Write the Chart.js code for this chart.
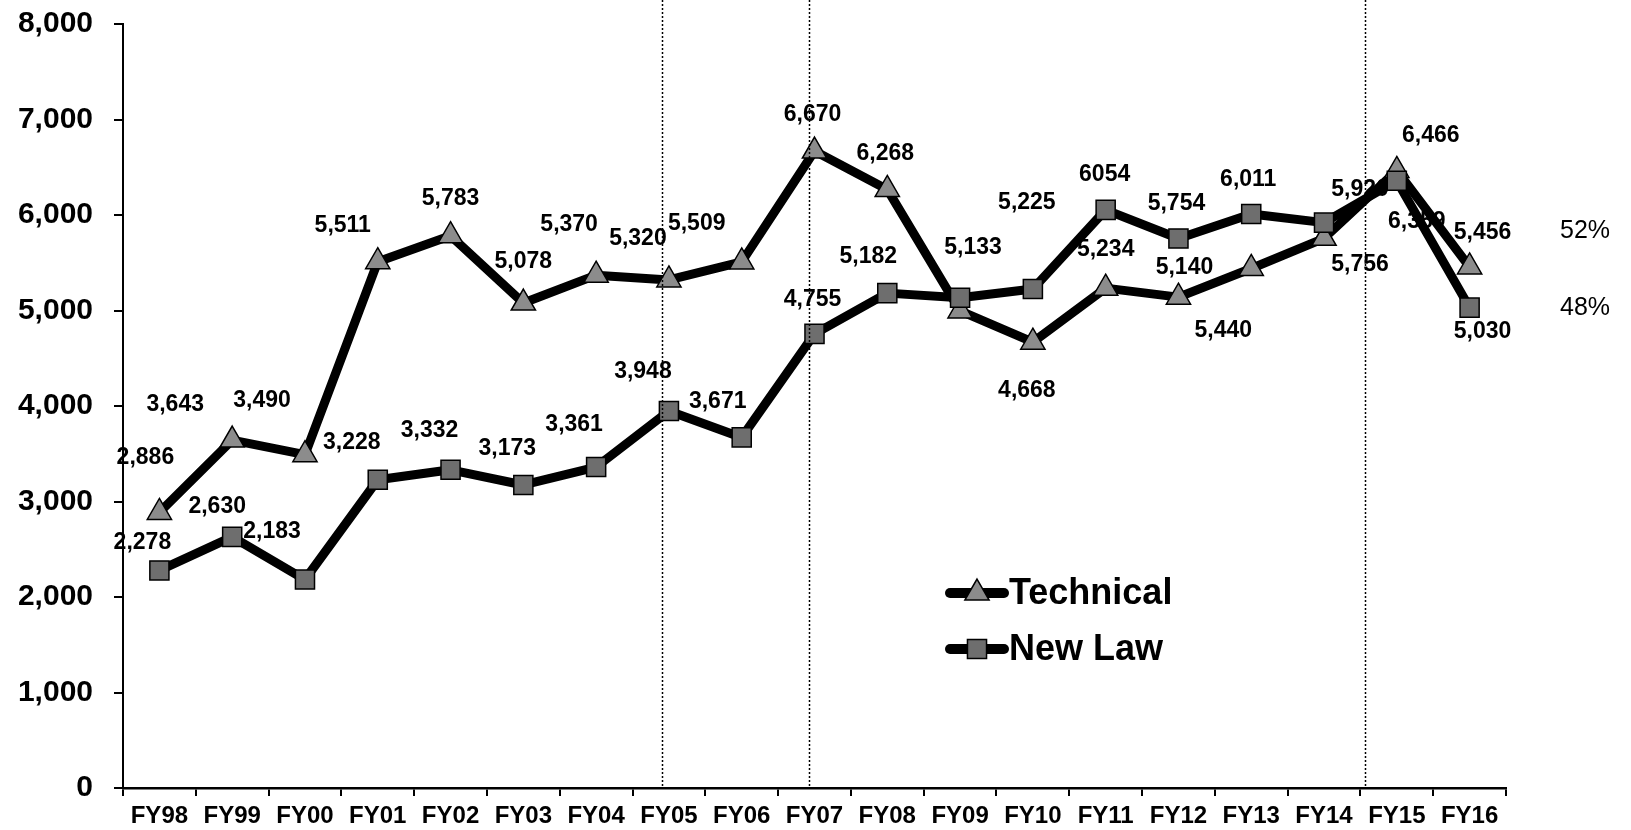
<!DOCTYPE html>
<html>
<head>
<meta charset="utf-8">
<script src="https://cdn.jsdelivr.net/npm/chart.js@4.4.0/dist/chart.umd.min.js"></script>
<style>
    html, body { margin: 0; padding: 0; background: #fff; }
    #wrap { width: 1631px; height: 830px; }
</style>
</head>
<body>
<div id="wrap"><canvas id="claimsChart" width="1631" height="830"></canvas></div>
<script>
// Chart data
const categories = ['FY98', 'FY99', 'FY00', 'FY01', 'FY02', 'FY03', 'FY04', 'FY05', 'FY06', 'FY07',
    'FY08', 'FY09', 'FY10', 'FY11', 'FY12', 'FY13', 'FY14', 'FY15', 'FY16'];
const technical = [2886, 3643, 3490, 5511, 5783, 5078, 5370, 5320, 5509, 6670,
    6268, 4995, 4668, 5234, 5140, 5440, 5756, 6466, 5456];
const newLaw = [2278, 2630, 2183, 3228, 3332, 3173, 3361, 3948, 3671, 4755,
    5182, 5133, 5225, 6054, 5754, 6011, 5920, 6359, 5030];
// value labels as printed (FY09 technical has none, FY11 new law has no comma)
const technicalLabels = ['2,886', '3,643', '3,490', '5,511', '5,783', '5,078', '5,370', '5,320', '5,509', '6,670',
    '6,268', null, '4,668', '5,234', '5,140', '5,440', '5,756', '6,466', '5,456'];
const newLawLabels = ['2,278', '2,630', '2,183', '3,228', '3,332', '3,173', '3,361', '3,948', '3,671', '4,755',
    '5,182', '5,133', '5,225', '6054', '5,754', '6,011', '5,920', '6,359', '5,030'];
const yTicks = [0, 1000, 2000, 3000, 4000, 5000, 6000, 7000, 8000];
// dotted markers between years (category index)
const dividers = [6.9, 8.93, 16.56];

// label placement relative to each point, in px
const technicalOffsets = [[-14, -55], [-57, -35], [-43, -54], [-35, -36], [0, -37], [0, -41], [-27, -51], [-31, -41], [-45, -38], [-2, -36],
    [-2, -36], null, [-6, 48], [0, -38], [6, -29], [-28, 62], [36, 26], [34, -35], [13, -34]];
const newLawOffsets = [[-17, -28], [-15, -30], [-33, -48], [-26, -37], [-21, -39], [-16, -36], [-22, -42], [-26, -39], [-24, -36], [-2, -34],
    [-19, -36], [13, -50], [-6, -86], [-1, -35], [-2, -35], [-3, -34], [36, -33], [20, 41], [13, 24]];

const FONT = "'Liberation Sans', Arial, Helvetica, sans-serif";

function formatNumber(num) {
    return new Intl.NumberFormat('en-US').format(num);
}

// Value labels drawn under the lines
const valueLabels = {
    id: 'valueLabels',
    beforeDatasetsDraw(chart) {
        const ctx = chart.ctx;
        ctx.save();
        ctx.font = 'bold 23px ' + FONT;
        ctx.fillStyle = '#000';
        ctx.textAlign = 'center';
        ctx.textBaseline = 'middle';
        chart.data.datasets.forEach((ds, i) => {
            const meta = chart.getDatasetMeta(i);
            meta.data.forEach((pt, j) => {
                const text = ds.valueLabels[j];
                const off = ds.labelOffsets[j];
                if (!text || !off) return;
                ctx.fillText(text, pt.x + off[0], pt.y + off[1]);
            });
        });
        ctx.restore();
    }
};

// Dotted dividers, legend and share percentages
const overlay = {
    id: 'overlay',
    afterDatasetsDraw(chart) {
        const ctx = chart.ctx;
        const xs = chart.scales.x;
        const area = chart.chartArea;
        ctx.save();

        // dotted lines
        ctx.strokeStyle = '#000';
        ctx.lineWidth = 1.5;
        ctx.setLineDash([2, 2]);
        dividers.forEach(v => {
            const x = Math.round(xs.getPixelForValue(v)) + 0.5;
            ctx.beginPath();
            ctx.moveTo(x, 0);
            ctx.lineTo(x, area.bottom);
            ctx.stroke();
        });
        ctx.setLineDash([]);

        // legend
        const legendRows = [0, 1].map(i => chart.data.datasets[i]);
        legendRows.forEach((ds, i) => {
            const y = 593 + i * 56;
            ctx.strokeStyle = '#000';
            ctx.lineWidth = 10;
            ctx.lineCap = 'round';
            ctx.beginPath();
            ctx.moveTo(950, y);
            ctx.lineTo(1004, y);
            ctx.stroke();
            ctx.fillStyle = ds.pointBackgroundColor;
            ctx.strokeStyle = '#000';
            ctx.lineWidth = ds.pointBorderWidth;
            Chart.helpers.drawPoint(ctx, {
                pointStyle: ds.pointStyle,
                radius: ds.pointRadius,
                borderWidth: ds.pointBorderWidth,
                rotation: 0
            }, 977, y);
            ctx.fillStyle = '#000';
            ctx.font = 'bold 36px ' + FONT;
            ctx.textAlign = 'left';
            ctx.textBaseline = 'middle';
            ctx.fillText(ds.label, 1009, y + 1);
        });

        // share of the last year
        const last = categories.length - 1;
        const total = technical[last] + newLaw[last];
        const ys = chart.scales.y;
        ctx.font = '25px ' + FONT;
        ctx.textAlign = 'center';
        ctx.textBaseline = 'middle';
        ctx.fillStyle = '#000';
        ctx.fillText(Math.round(technical[last] / total * 100) + '%', 1585, ys.getPixelForValue(technical[last]) - 36);
        ctx.fillText(Math.round(newLaw[last] / total * 100) + '%', 1585, ys.getPixelForValue(newLaw[last]));
        ctx.restore();
    }
};

function renderClaimsChart() {
    const ctx = document.getElementById('claimsChart').getContext('2d');

    const chartData = {
        labels: categories,
        datasets: [{
            label: 'Technical',
            data: technical,
            valueLabels: technicalLabels,
            labelOffsets: technicalOffsets,
            borderColor: '#000',
            borderWidth: 9,
            borderJoinStyle: 'round',
            tension: 0,
            pointStyle: 'triangle',
            pointRadius: 14,
            pointBackgroundColor: '#8c8c8c',
            pointBorderColor: '#000',
            pointBorderWidth: 1.5,
            order: 1
        }, {
            label: 'New Law',
            data: newLaw,
            valueLabels: newLawLabels,
            labelOffsets: newLawOffsets,
            borderColor: '#000',
            borderWidth: 9,
            borderJoinStyle: 'round',
            tension: 0,
            pointStyle: 'rect',
            pointRadius: 13.5,
            pointBackgroundColor: '#6e6e6e',
            pointBorderColor: '#000',
            pointBorderWidth: 1.5,
            order: 0
        }]
    };

    return new Chart(ctx, {
        type: 'line',
        data: chartData,
        options: {
            responsive: false,
            animation: false,
            devicePixelRatio: 1,
            layout: {
                padding: { top: 24, right: 125, left: 0, bottom: 0 }
            },
            plugins: {
                legend: { display: false },
                title: { display: false },
                tooltip: { enabled: false }
            },
            scales: {
                x: {
                    type: 'category',
                    offset: true,
                    grid: {
                        offset: true,
                        drawOnChartArea: false,
                        drawTicks: true,
                        tickLength: 8,
                        color: '#000',
                        lineWidth: 2
                    },
                    border: { display: true, color: '#000', width: 2.5 },
                    ticks: {
                        color: '#000',
                        font: { family: FONT, size: 24, weight: 'bold' },
                        padding: 6,
                        maxRotation: 0,
                        autoSkip: false
                    },
                    afterFit: function(scale) {
                        scale.height = 42;
                        scale.paddingLeft = 0;
                        scale.paddingRight = 0;
                    }
                },
                y: {
                    min: 0,
                    max: 8000,
                    afterBuildTicks: function(scale) {
                        scale.ticks = yTicks.map(v => ({ value: v }));
                    },
                    grid: {
                        drawOnChartArea: false,
                        drawTicks: true,
                        tickLength: 9,
                        color: '#000',
                        lineWidth: 2
                    },
                    border: { display: true, color: '#000', width: 2 },
                    ticks: {
                        color: '#000',
                        font: { family: FONT, size: 30, weight: 'bold' },
                        padding: 21,
                        callback: function(value) { return formatNumber(value); }
                    },
                    afterFit: function(scale) {
                        scale.width = 123;
                        scale.paddingTop = 0;
                        scale.paddingBottom = 0;
                    }
                }
            }
        },
        plugins: [valueLabels, overlay]
    });
}

renderClaimsChart();
</script>
</body>
</html>
